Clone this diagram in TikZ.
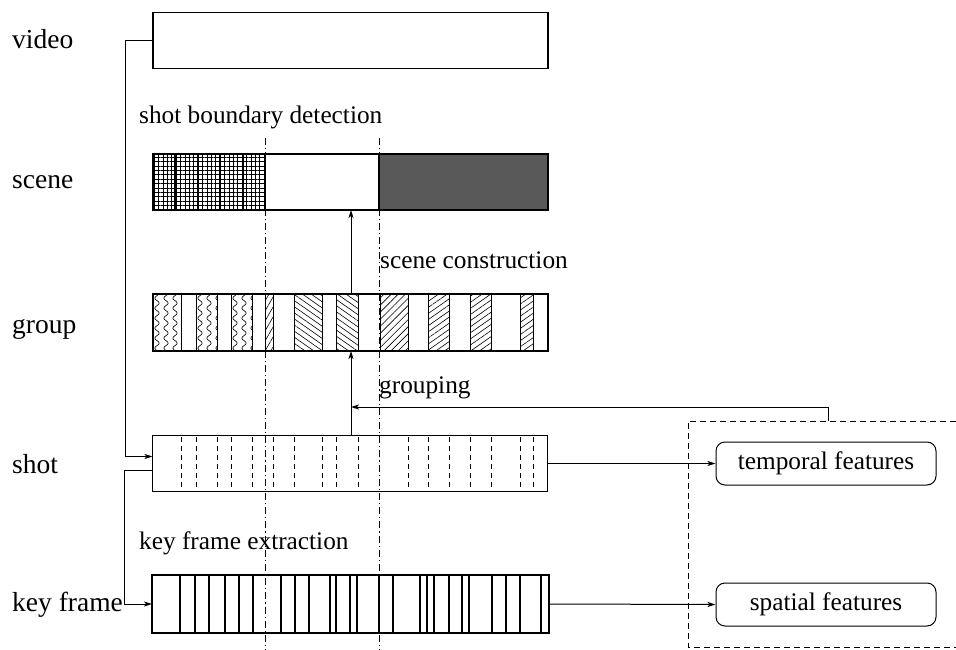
\documentclass[tikz,border=0pt]{standalone}
\usepackage{fontspec}
\setmainfont{Liberation Serif}
\usetikzlibrary{patterns,patterns.meta,arrows.meta,decorations.pathmorphing,calc,backgrounds}

\begin{document}
\begin{tikzpicture}[x=1pt,y=-1pt,
  every node/.style={font=\fontsize{25.3}{30}\selectfont},
  bar/.style={draw, line width=1.1pt, minimum width=395pt, inner sep=0pt, outer sep=0pt},
  lbl/.style={anchor=base west, inner sep=0pt},
  level/.style={lbl, font=\fontsize{27.5}{32}\selectfont},
  conn/.style={line width=1pt},
  arr/.style={line width=1pt, -{Stealth[length=8pt,width=5pt,inset=2pt]}},
  feat/.style={draw, line width=1pt, rounded corners=9pt, minimum width=220pt,
    minimum height=43pt, inner sep=0pt},
  sceneline/.style={line width=1pt, dash pattern=on 7pt off 3pt on 1.2pt off 3pt},
  hatchbox/.style={draw, line width=1pt},
  wave/.style={line width=0.6pt, decorate,
    decoration={snake, amplitude=2.2pt, segment length=10pt}},
  kline/.style={line width=2pt},
  sline/.style={line width=1pt, dash pattern=on 5pt off 4pt},
]
\useasboundingbox (0,0) rectangle (956,650);

% ---------------- the five levels ----------------
\node[bar, minimum height=56pt] (video) at (350.5,40.5) {};
\node[bar, minimum height=56pt] (scene) at (350.5,182) {};
\node[bar, minimum height=57pt] (group) at (350.5,322.5) {};
\node[bar, minimum height=56.5pt] (shot) at (350,463.5) {};
\node[bar, line width=2pt, minimum width=397pt, minimum height=58pt] (keyframe) at (350.5,604) {};

\node[level] (lvideo) at (12,49) {video};
\node[level] (lscene) at (12,189) {scene};
\node[level] (lgroup) at (12,333) {group};
\node[level] (lshot) at (12,473) {shot};
\node[level] (lkey) at (12,611) {key frame};

\node[lbl] (tsbd) at (139,124) {shot boundary detection};
\node[lbl] (tsc) at (380,268) {scene construction};
\node[lbl] (tgr) at (379,393) {grouping};
\node[lbl] (tkfe) at (139,549) {key frame extraction};

% ---------------- scene contents ----------------
\begin{scope}[on background layer]
  \fill[pattern={Hatch[distance=4.4pt, line width=0.6pt]}] (153,154) rectangle (265,210);
  \fill[black!65] (379,154) rectangle (548,210);
\end{scope}
\foreach \x in {175,198,220,243}
  \draw[line width=1.6pt] (\x,154) -- (\x,210);
\draw[line width=1.1pt] (265,154) -- (265,210);
\draw[line width=1.1pt] (379,154) -- (379,210);

% ---------------- group contents ----------------
\foreach \a/\b in {153/181,196/217,231/252}{
  \begin{scope}
    \clip (\a,294) rectangle (\b,351);
    \foreach \d in {4,13,22}
      \draw[wave] (\a+\d,290) -- (\a+\d,356);
  \end{scope}
  \draw[hatchbox] (\a,294) rectangle (\b,351);
}
\foreach \a/\b/\ang in {265/273/60,294/322/-35,336/358/-35,380/408/45,428/449/35,470/491/35,520/533/35}
  \draw[hatchbox, pattern={Lines[angle=\ang, distance=5pt, line width=0.6pt]}]
    (\a,294) rectangle (\b,351);

% ---------------- shot boundaries ----------------
\foreach \x in {181,196,217,231,252,273,294,322,336,358,408,428,449,470,491,520,533}
  \draw[sline] (\x,437) -- (\x,490);

% ---------------- key frames ----------------
\foreach \x in {180,195,209,225,239,253,281,295,309,330,336,350,357,379,393,420,427,434,449,462,469,492,506,520,541}
  \draw[kline] (\x,575) -- (\x,633);

% ---------------- scene boundaries ----------------
\coordinate (sbA) at (265,138);
\coordinate (sbB) at (379,138);
\draw[sceneline] (sbA) -- (sbA |- 0,650);
\draw[sceneline] (sbB) -- (sbB |- 0,650);

% ---------------- features ----------------
\node[feat] (temporal) at (826,463.5) {temporal features};
\node[feat] (spatial) at (826,604.5) {spatial features};
\draw[line width=1pt, dash pattern=on 6pt off 4pt]
  (956,421) -- (688,421) -- (688,647) -- (956,647);
\coordinate (boxtop) at (828,421);

% ---------------- connectors ----------------
\coordinate (mid) at (351,0);
\coordinate (shotin) at ($(shot.west)+(0,-7)$);
\coordinate (shotout) at ($(shot.west)+(0,7)$);
\coordinate (feedback) at (351,407);

\draw[arr] (video.west) -- ++(-28,0) |- (shotin);
\draw[arr] (shotout) -- ++(-28,0) |- (keyframe.west);
\draw[arr] (shot.north -| mid) -- (group.south -| mid);
\draw[arr] (group.north -| mid) -- (scene.south -| mid);
\draw[arr] (boxtop) |- (feedback);
\draw[arr] (shot.east) -- (temporal.west);
\draw[arr] (keyframe.east) -- (spatial.west);
\end{tikzpicture}
\end{document}
